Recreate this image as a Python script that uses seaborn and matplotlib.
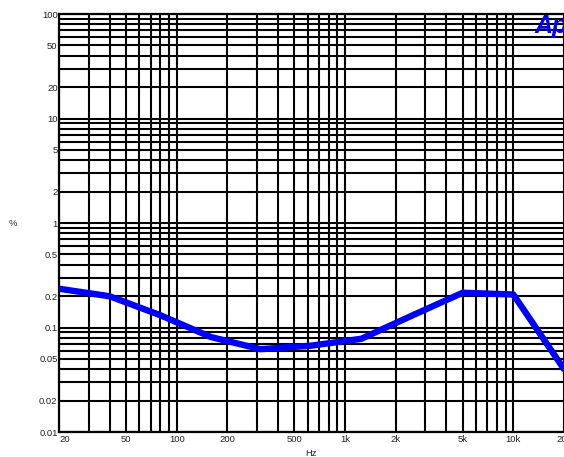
import matplotlib
matplotlib.use("Agg")
import matplotlib.pyplot as plt
import matplotlib.ticker as mticker
import numpy as np
import pandas as pd
import seaborn as sns

freq_hz = [20, 40, 80, 160, 315, 630, 1250, 2500, 5000, 10000, 20000]
thd_pct = [0.235, 0.199, 0.131, 0.081, 0.062, 0.067, 0.078, 0.13, 0.215, 0.207, 0.040]

xtick_vals = [20, 50, 100, 200, 500, 1000, 2000, 5000, 10000, 20000]
xtick_labels = ["20", "50", "100", "200", "500", "1k", "2k", "5k", "10k", "20k"]
ytick_vals = [100, 50, 20, 10, 5, 2, 1, 0.5, 0.2, 0.1, 0.05, 0.02, 0.01]
ytick_labels = ["100", "50", "20", "10", "5", "2", "1", "0.5", "0.2", "0.1", "0.05", "0.02", "0.01"]

sns.set_style("white")
plt.rcParams['font.family'] = ['Liberation Sans', 'DejaVu Sans']

fig = plt.figure(figsize=(5.64, 4.57), dpi=100)
ax = fig.add_axes([59/564, 25/457, 1 - 59/564, (432-14)/457])

df = pd.DataFrame({"Hz": freq_hz, "%": thd_pct})
sns.lineplot(data=df, x="Hz", y="%", ax=ax, color="#0000ff", linewidth=4.6, zorder=5)

ax.set_xscale("log")
ax.set_yscale("log")
ax.set_xlim(20, 20000)
ax.set_ylim(0.01, 100)

ax.xaxis.set_major_locator(mticker.FixedLocator(xtick_vals))
ax.xaxis.set_major_formatter(mticker.FixedFormatter(xtick_labels))
ax.xaxis.set_minor_locator(mticker.LogLocator(base=10, subs=np.arange(1, 10)))
ax.xaxis.set_minor_formatter(mticker.NullFormatter())
ax.yaxis.set_major_locator(mticker.FixedLocator(ytick_vals))
ax.yaxis.set_major_formatter(mticker.FixedFormatter(ytick_labels))
ax.yaxis.set_minor_locator(mticker.LogLocator(base=10, subs=np.arange(1, 10)))
ax.yaxis.set_minor_formatter(mticker.NullFormatter())

ax.grid(True, which="both", axis="both", color="black", linewidth=1.5)
ax.tick_params(which="both", length=0, labelsize=6.8, pad=2, colors="#222222")
ax.tick_params(axis="y", pad=1)
for s in ax.spines.values():
    s.set_color("black")
    s.set_linewidth(1.6)
ax.spines["right"].set_visible(False)
fig.canvas.draw()
ax.get_xticklabels()[0].set_horizontalalignment("left")

ax.set_xlabel("Hz", fontsize=6.8, labelpad=4)
ax.set_ylabel("")
fig.text(13/564, 1 - 224/457, "%", fontsize=6.8, ha="center", va="center")
fig.text(535/564, 1 - 26/457, "Ap", fontsize=18, fontweight="heavy", fontstyle="italic",
         color="#0000ff", ha="left", va="center")

fig.savefig("out.png", dpi=100)
